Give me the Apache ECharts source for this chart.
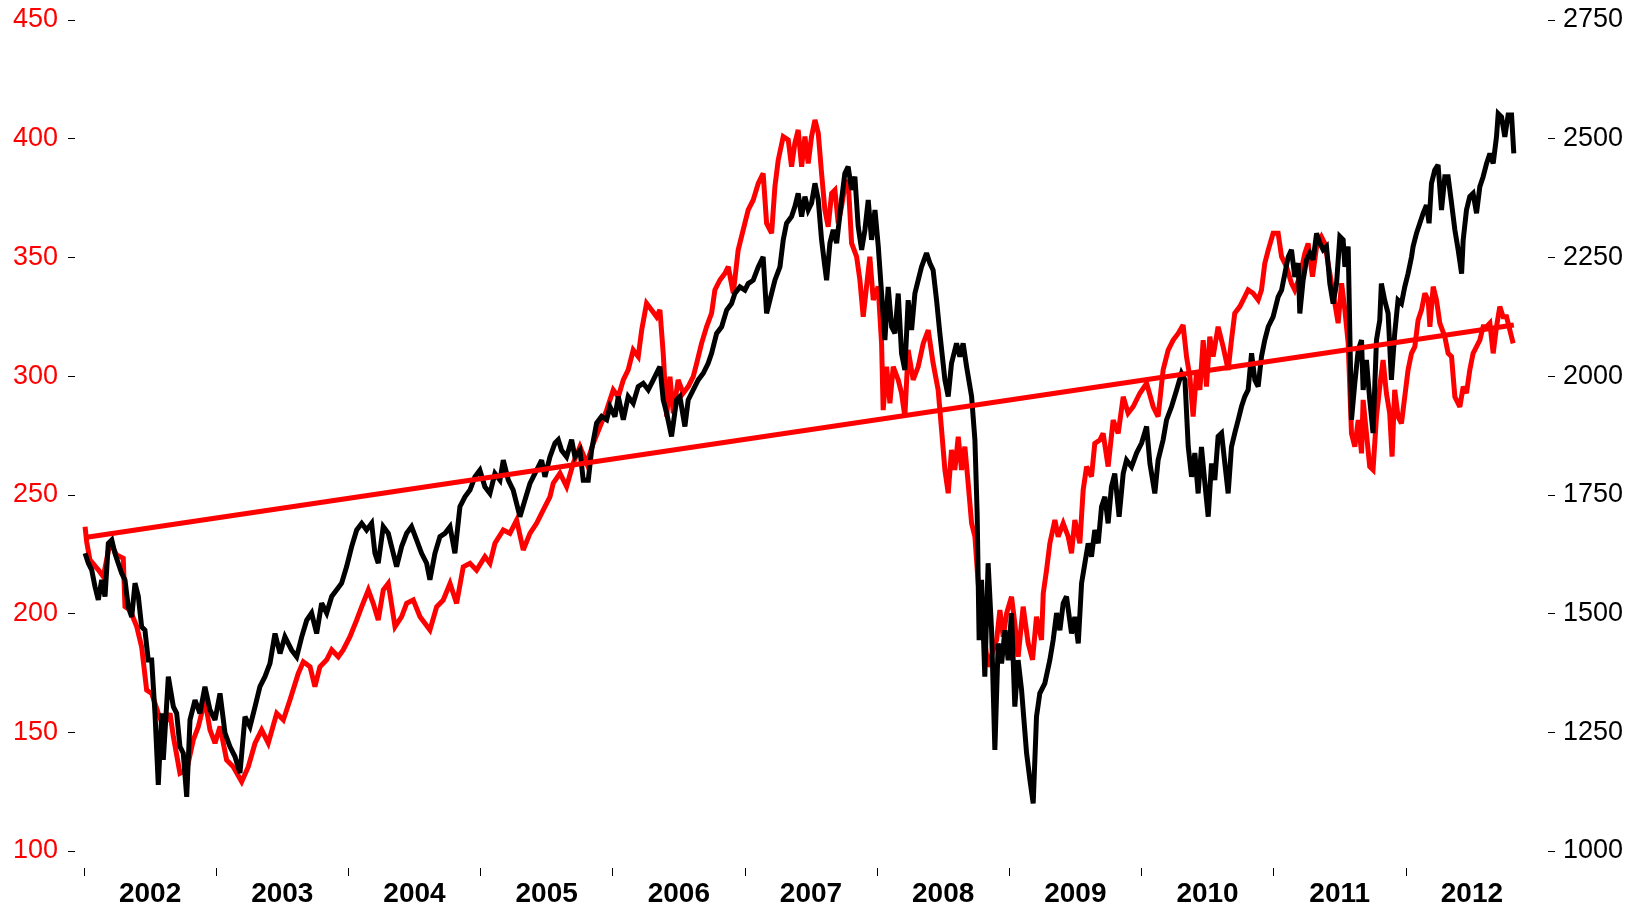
<!DOCTYPE html>
<html>
<head>
<meta charset="utf-8">
<title>index</title>
<script src="https://cdn.jsdelivr.net/npm/echarts@6/dist/echarts.min.js"></script>
<style>
    html, body { margin: 0; padding: 0; background: #fff; }
    #chart { width: 1640px; height: 907px; }
</style>
</head>
<body>
<div id="chart"></div>
<script>
/**
 * red index (left axis) vs black index (right axis), weekly-ish, 2002 - 2012
 */
const yearTicks = [2002, 2003, 2004, 2005, 2006, 2007, 2008, 2009, 2010, 2011, 2012];
const leftTicks = { min: 100, max: 450, step: 50 };
const rightTicks = { min: 1000, max: 2750, step: 250 };

const redDates = [
    2002.008, 2002.020, 2002.045, 2002.108, 2002.146, 2002.197, 2002.247, 2002.297, 2002.310, 2002.348,
    2002.399, 2002.436, 2002.474, 2002.512, 2002.562, 2002.600, 2002.651, 2002.676, 2002.726, 2002.777,
    2002.827, 2002.865, 2002.915, 2002.953, 2002.991, 2003.029, 2003.079, 2003.129, 2003.193, 2003.243,
    2003.294, 2003.344, 2003.394, 2003.458, 2003.508, 2003.558, 2003.621, 2003.659, 2003.710, 2003.747,
    2003.785, 2003.836, 2003.874, 2003.924, 2003.961, 2004.012, 2004.063, 2004.101, 2004.151, 2004.188,
    2004.226, 2004.264, 2004.302, 2004.353, 2004.403, 2004.441, 2004.491, 2004.542, 2004.617, 2004.668,
    2004.718, 2004.769, 2004.819, 2004.869, 2004.920, 2004.970, 2005.033, 2005.071, 2005.109, 2005.172,
    2005.222, 2005.273, 2005.323, 2005.374, 2005.424, 2005.474, 2005.525, 2005.550, 2005.601, 2005.651,
    2005.701, 2005.752, 2005.803, 2005.853, 2005.903, 2005.954, 2006.004, 2006.042, 2006.080, 2006.117,
    2006.155, 2006.193, 2006.219, 2006.256, 2006.294, 2006.332, 2006.357, 2006.382, 2006.408, 2006.433,
    2006.458, 2006.495, 2006.533, 2006.571, 2006.609, 2006.635, 2006.672, 2006.710, 2006.748, 2006.773,
    2006.811, 2006.849, 2006.874, 2006.912, 2006.949, 2006.987, 2007.025, 2007.063, 2007.101, 2007.138,
    2007.164, 2007.202, 2007.227, 2007.252, 2007.290, 2007.328, 2007.353, 2007.378, 2007.403, 2007.429,
    2007.454, 2007.479, 2007.504, 2007.530, 2007.555, 2007.580, 2007.605, 2007.630, 2007.656, 2007.681,
    2007.706, 2007.731, 2007.756, 2007.781, 2007.807, 2007.845, 2007.870, 2007.895, 2007.920, 2007.945,
    2007.971, 2008.008, 2008.034, 2008.046, 2008.072, 2008.097, 2008.122, 2008.160, 2008.185, 2008.210,
    2008.235, 2008.273, 2008.311, 2008.349, 2008.387, 2008.424, 2008.462, 2008.488, 2008.513, 2008.538,
    2008.563, 2008.588, 2008.614, 2008.639, 2008.664, 2008.689, 2008.715, 2008.740, 2008.765, 2008.803,
    2008.840, 2008.878, 2008.904, 2008.929, 2008.954, 2008.980, 2009.017, 2009.042, 2009.067, 2009.105,
    2009.143, 2009.176, 2009.206, 2009.244, 2009.257, 2009.282, 2009.307, 2009.345, 2009.370, 2009.408,
    2009.446, 2009.471, 2009.496, 2009.534, 2009.559, 2009.585, 2009.622, 2009.647, 2009.685, 2009.710,
    2009.748, 2009.786, 2009.824, 2009.862, 2009.899, 2009.937, 2009.988, 2010.039, 2010.089, 2010.126,
    2010.164, 2010.202, 2010.240, 2010.278, 2010.315, 2010.341, 2010.366, 2010.391, 2010.416, 2010.442,
    2010.467, 2010.492, 2010.517, 2010.542, 2010.580, 2010.618, 2010.656, 2010.681, 2010.706, 2010.744,
    2010.782, 2010.807, 2010.845, 2010.883, 2010.908, 2010.933, 2010.959, 2010.996, 2011.034, 2011.060,
    2011.097, 2011.135, 2011.160, 2011.198, 2011.236, 2011.261, 2011.294, 2011.325, 2011.362, 2011.387,
    2011.425, 2011.463, 2011.488, 2011.514, 2011.539, 2011.564, 2011.589, 2011.614, 2011.640, 2011.665,
    2011.677, 2011.702, 2011.727, 2011.752, 2011.778, 2011.803, 2011.828, 2011.853, 2011.878, 2011.896,
    2011.916, 2011.941, 2011.967, 2011.992, 2012.017, 2012.043, 2012.068, 2012.093, 2012.119, 2012.144,
    2012.169, 2012.182, 2012.207, 2012.232, 2012.257, 2012.295, 2012.320, 2012.346, 2012.371, 2012.409,
    2012.434, 2012.459, 2012.484, 2012.509, 2012.535, 2012.560, 2012.585, 2012.611, 2012.636, 2012.661,
    2012.686, 2012.711, 2012.736, 2012.762, 2012.787, 2012.812
];
const redValues = [
    236.6, 230.3, 222.6, 218.4, 215.5, 230.0, 224.7, 223.3, 202.9, 201.5,
    194.5, 186.0, 167.8, 166.4, 158.0, 152.4, 158.0, 148.2, 132.7, 134.1,
    146.8, 152.4, 163.6, 151.0, 145.4, 152.4, 138.3, 135.5, 129.2, 135.5,
    145.4, 151.0, 145.4, 158.0, 155.2, 163.6, 174.8, 179.7, 177.6, 169.2,
    177.6, 180.5, 184.7, 181.8, 184.7, 190.3, 197.3, 202.9, 209.9, 204.3,
    197.3, 209.9, 212.7, 194.5, 198.7, 204.3, 205.7, 198.7, 193.1, 202.9,
    205.7, 212.7, 204.3, 219.7, 221.2, 218.3, 224.0, 221.2, 229.6, 235.2,
    233.8, 239.4, 226.8, 233.8, 238.0, 243.6, 249.2, 254.9, 259.1, 253.5,
    263.3, 270.3, 263.3, 271.7, 278.7, 285.7, 294.2, 291.3, 298.4, 302.6,
    311.0, 308.2, 319.4, 330.7, 327.9, 325.0, 327.9, 309.6, 283.0, 299.8,
    284.4, 298.4, 292.8, 295.6, 299.8, 305.4, 313.8, 320.8, 326.5, 336.3,
    340.5, 343.3, 346.1, 334.9, 353.1, 361.6, 370.0, 374.2, 381.2, 385.4,
    364.4, 360.2, 379.8, 391.0, 400.9, 399.5, 388.2, 398.1, 403.7, 388.2,
    400.9, 389.6, 400.9, 407.9, 402.3, 385.4, 370.0, 362.9, 377.0, 378.4,
    364.4, 371.4, 379.8, 382.6, 356.0, 350.3, 340.5, 325.0, 337.7, 350.3,
    332.1, 337.7, 313.8, 285.7, 304.0, 288.6, 304.0, 298.4, 292.8, 283.0,
    311.0, 298.4, 304.0, 313.8, 319.4, 305.4, 294.2, 277.3, 260.5, 250.7,
    268.9, 260.5, 274.5, 260.5, 270.3, 254.9, 238.0, 232.4, 212.7, 193.1,
    177.6, 184.7, 188.9, 201.5, 190.3, 200.1, 207.1, 195.9, 181.8, 202.9,
    187.5, 180.5, 198.7, 188.9, 208.5, 218.3, 229.6, 239.4, 232.4, 238.0,
    232.4, 225.4, 239.4, 229.6, 252.0, 261.9, 257.7, 271.7, 273.1, 275.9,
    261.9, 281.5, 275.9, 291.3, 284.4, 287.1, 292.8, 297.0, 287.1, 283.0,
    302.6, 311.0, 315.2, 318.0, 321.5, 308.2, 299.8, 283.0, 301.2, 294.2,
    315.2, 295.6, 316.6, 308.2, 320.8, 312.4, 302.6, 315.2, 326.5, 329.3,
    333.5, 336.3, 334.9, 332.1, 336.3, 347.5, 353.1, 360.2, 360.2, 350.3,
    346.1, 339.1, 336.3, 341.9, 351.7, 355.9, 341.9, 354.5, 358.7, 355.9,
    343.3, 330.7, 322.3, 339.1, 327.9, 313.8, 275.9, 270.3, 281.5, 267.5,
    290.0, 275.9, 261.9, 260.5, 283.0, 295.6, 306.8, 292.8, 284.4, 266.1,
    294.2, 283.0, 280.1, 291.3, 302.6, 309.6, 312.4, 323.6, 327.9, 334.9,
    332.1, 320.8, 337.7, 332.1, 322.3, 316.6, 309.6, 308.2, 291.3, 287.1,
    295.6, 292.8, 302.6, 309.6, 312.4, 315.2, 320.8, 320.8, 322.3, 309.6,
    320.8, 329.3, 325.0, 325.0, 319.4, 313.8
];

const blackDates = [
    2002.008, 2002.033, 2002.058, 2002.083, 2002.108, 2002.134, 2002.159, 2002.184, 2002.210, 2002.234,
    2002.259, 2002.285, 2002.310, 2002.335, 2002.361, 2002.386, 2002.411, 2002.436, 2002.461, 2002.486,
    2002.512, 2002.537, 2002.562, 2002.588, 2002.600, 2002.638, 2002.676, 2002.701, 2002.726, 2002.751,
    2002.777, 2002.802, 2002.840, 2002.877, 2002.915, 2002.953, 2002.991, 2003.029, 2003.067, 2003.104,
    2003.142, 2003.180, 2003.218, 2003.256, 2003.294, 2003.331, 2003.369, 2003.407, 2003.445, 2003.483,
    2003.520, 2003.571, 2003.609, 2003.647, 2003.685, 2003.722, 2003.760, 2003.798, 2003.836, 2003.874,
    2003.912, 2003.949, 2003.987, 2004.025, 2004.063, 2004.101, 2004.138, 2004.176, 2004.201, 2004.226,
    2004.264, 2004.302, 2004.327, 2004.365, 2004.403, 2004.441, 2004.478, 2004.516, 2004.554, 2004.592,
    2004.617, 2004.655, 2004.693, 2004.731, 2004.769, 2004.806, 2004.844, 2004.882, 2004.920, 2004.958,
    2004.995, 2005.033, 2005.071, 2005.109, 2005.147, 2005.172, 2005.210, 2005.247, 2005.298, 2005.336,
    2005.374, 2005.412, 2005.437, 2005.462, 2005.487, 2005.525, 2005.563, 2005.588, 2005.613, 2005.651,
    2005.689, 2005.714, 2005.752, 2005.777, 2005.815, 2005.840, 2005.878, 2005.916, 2005.954, 2005.979,
    2006.017, 2006.042, 2006.080, 2006.117, 2006.155, 2006.193, 2006.231, 2006.269, 2006.307, 2006.344,
    2006.357, 2006.382, 2006.408, 2006.445, 2006.483, 2006.508, 2006.546, 2006.571, 2006.609, 2006.647,
    2006.685, 2006.722, 2006.748, 2006.786, 2006.824, 2006.862, 2006.899, 2006.924, 2006.962, 2007.000,
    2007.025, 2007.063, 2007.101, 2007.138, 2007.164, 2007.189, 2007.227, 2007.265, 2007.290, 2007.315,
    2007.353, 2007.378, 2007.403, 2007.429, 2007.454, 2007.479, 2007.504, 2007.530, 2007.555, 2007.580,
    2007.605, 2007.618, 2007.643, 2007.668, 2007.694, 2007.731, 2007.756, 2007.781, 2007.807, 2007.832,
    2007.857, 2007.883, 2007.908, 2007.933, 2007.958, 2007.984, 2008.009, 2008.034, 2008.059, 2008.084,
    2008.110, 2008.135, 2008.160, 2008.185, 2008.210, 2008.235, 2008.261, 2008.286, 2008.311, 2008.336,
    2008.374, 2008.399, 2008.424, 2008.450, 2008.475, 2008.513, 2008.538, 2008.563, 2008.601, 2008.626,
    2008.651, 2008.677, 2008.715, 2008.740, 2008.757, 2008.772, 2008.790, 2008.815, 2008.840, 2008.866,
    2008.891, 2008.916, 2008.942, 2008.967, 2008.992, 2009.017, 2009.042, 2009.067, 2009.093, 2009.131,
    2009.156, 2009.181, 2009.206, 2009.231, 2009.269, 2009.307, 2009.332, 2009.358, 2009.383, 2009.408,
    2009.433, 2009.471, 2009.496, 2009.522, 2009.547, 2009.572, 2009.597, 2009.622, 2009.647, 2009.673,
    2009.698, 2009.723, 2009.748, 2009.773, 2009.798, 2009.831, 2009.862, 2009.887, 2009.925, 2009.963,
    2010.001, 2010.039, 2010.064, 2010.101, 2010.126, 2010.164, 2010.190, 2010.228, 2010.266, 2010.303,
    2010.329, 2010.354, 2010.379, 2010.404, 2010.429, 2010.454, 2010.480, 2010.505, 2010.530, 2010.555,
    2010.580, 2010.606, 2010.631, 2010.656, 2010.681, 2010.706, 2010.732, 2010.757, 2010.782, 2010.807,
    2010.833, 2010.858, 2010.883, 2010.908, 2010.933, 2010.959, 2010.996, 2011.034, 2011.060, 2011.085,
    2011.110, 2011.135, 2011.160, 2011.186, 2011.198, 2011.223, 2011.249, 2011.274, 2011.299, 2011.325,
    2011.350, 2011.375, 2011.400, 2011.425, 2011.450, 2011.476, 2011.501, 2011.526, 2011.539, 2011.564,
    2011.589, 2011.614, 2011.640, 2011.665, 2011.677, 2011.702, 2011.727, 2011.752, 2011.778, 2011.803,
    2011.815, 2011.840, 2011.866, 2011.891, 2011.916, 2011.941, 2011.967, 2011.992, 2012.017, 2012.043,
    2012.055, 2012.081, 2012.106, 2012.131, 2012.156, 2012.176, 2012.194, 2012.219, 2012.244, 2012.270,
    2012.295, 2012.320, 2012.346, 2012.371, 2012.396, 2012.422, 2012.434, 2012.459, 2012.484, 2012.509,
    2012.535, 2012.560, 2012.585, 2012.611, 2012.636, 2012.661, 2012.686, 2012.699, 2012.724, 2012.749,
    2012.774, 2012.800, 2012.817
];
const blackValues = [
    1627, 1606, 1592, 1557, 1529, 1571, 1536, 1648, 1655, 1627,
    1606, 1585, 1571, 1514, 1493, 1564, 1536, 1472, 1465, 1402,
    1402, 1290, 1139, 1290, 1192, 1367, 1304, 1290, 1220, 1206,
    1114, 1276, 1318, 1290, 1346, 1297, 1276, 1332, 1248, 1220,
    1199, 1164, 1283, 1262, 1304, 1346, 1367, 1395, 1458, 1416,
    1451, 1423, 1409, 1451, 1486, 1501, 1458, 1522, 1501, 1536,
    1550, 1564, 1599, 1641, 1676, 1690, 1676, 1690, 1627, 1606,
    1683, 1669, 1641, 1599, 1641, 1669, 1683, 1655, 1627, 1606,
    1571, 1627, 1662, 1669, 1683, 1627, 1725, 1746, 1760, 1788,
    1802, 1767, 1753, 1795, 1781, 1823, 1781, 1760, 1704, 1739,
    1774, 1795, 1809, 1823, 1788, 1830, 1859, 1866, 1844, 1830,
    1866, 1830, 1844, 1781, 1781, 1844, 1901, 1915, 1908, 1936,
    1915, 1957, 1908, 1957, 1943, 1978, 1985, 1971, 1992, 2013,
    2020, 1950, 1922, 1873, 1950, 1957, 1894, 1950, 1971, 1992,
    2006, 2027, 2048, 2090, 2104, 2139, 2153, 2174, 2188, 2181,
    2195, 2202, 2230, 2251, 2132, 2160, 2202, 2230, 2287, 2322,
    2336, 2357, 2385, 2336, 2378, 2350, 2364, 2406, 2371, 2287,
    2230, 2202, 2280, 2308, 2280, 2371, 2427, 2441, 2392, 2420,
    2315, 2266, 2308, 2371, 2287, 2350, 2273, 2174, 2076, 2188,
    2104, 2090, 2174, 2048, 2013, 2160, 2097, 2174, 2202, 2230,
    2259, 2238, 2223, 2160, 2090, 1992, 1957, 2027, 2069, 2041,
    2069, 2020, 1957, 1866, 1711, 1444, 1571, 1367, 1606, 1465,
    1213, 1437, 1395, 1465, 1402, 1501, 1304, 1402, 1339, 1206,
    1150, 1100, 1283, 1332, 1353, 1402, 1444, 1501, 1465, 1522,
    1536, 1458, 1493, 1437, 1564, 1606, 1648, 1620, 1676, 1648,
    1725, 1746, 1690, 1767, 1795, 1704, 1795, 1823, 1809, 1838,
    1859, 1894, 1816, 1753, 1823, 1866, 1908, 1936, 1971, 2006,
    1992, 1851, 1788, 1838, 1753, 1851, 1774, 1704, 1816, 1781,
    1873, 1880, 1816, 1753, 1851, 1880, 1908, 1936, 1957, 1971,
    2048, 1992, 1978, 2041, 2076, 2104, 2125, 2167, 2181, 2216,
    2251, 2266, 2209, 2238, 2132, 2202, 2245, 2259, 2245, 2301,
    2280, 2266, 2273, 2195, 2153, 2195, 2294, 2287, 2230, 2273,
    1908, 1985, 2055, 2076, 1971, 2034, 1950, 1880, 2076, 2118,
    2195, 2160, 2132, 1992, 2090, 2160, 2153, 2188, 2216, 2251,
    2273, 2301, 2322, 2343, 2360, 2322, 2406, 2434, 2445, 2350,
    2420, 2420, 2364, 2308, 2266, 2216, 2287, 2350, 2378, 2385,
    2343, 2399, 2420, 2448, 2469, 2448, 2504, 2553, 2546, 2504,
    2550, 2550, 2469
];

// straight red line over the whole span
const trendDates = [2002.008, 2012.817];
const trendValues = [232.0, 321.5];

const font = '"Liberation Sans", Arial, sans-serif';
const zip = (xs, ys) => xs.map((x, i) => [x, ys[i]]);

const chart = echarts.init(document.getElementById('chart'));

const lineSeries = (name, xs, ys, color, axis) => ({
    name,
    type: 'line',
    yAxisIndex: axis,
    data: zip(xs, ys),
    symbol: 'none',
    showSymbol: false,
    silent: true,
    color,
    lineStyle: { color, width: 5, join: 'miter', miterLimit: 3 }
});

const yAxisBase = (range, side, offset, color, margin) => ({
    type: 'value',
    position: side,
    min: range.min,
    max: range.max,
    interval: range.step,
    offset,
    axisLine: { show: false },
    splitLine: { show: false },
    axisTick: { show: true, length: 7, lineStyle: { color: '#000', width: 1 } },
    axisLabel: { color, fontSize: 27, fontFamily: font, margin, formatter: v => String(v) }
});

chart.setOption({
    animation: false,
    backgroundColor: '#fff',
    grid: { left: 84, right: 102, top: 20, bottom: 56, containLabel: false, outerBoundsMode: 'none' },
    xAxis: {
        type: 'value',
        min: 2002,
        max: 2013,
        offset: 17,
        axisLine: { show: false },
        splitLine: { show: false },
        axisTick: { show: true, customValues: yearTicks, length: 8, lineStyle: { color: '#000', width: 1 } },
        axisLabel: {
            customValues: yearTicks.map(y => y + 0.5),
            formatter: v => String(Math.floor(v)),
            fontSize: 28,
            fontWeight: 'bold',
            fontFamily: font,
            color: '#000',
            margin: 12
        }
    },
    yAxis: [
        yAxisBase(leftTicks, 'left', 9, '#ff0000', 17),
        yAxisBase(rightTicks, 'right', 10, '#000', 15)
    ],
    series: [
        lineSeries('red', redDates, redValues, '#ff0000', 0),
        lineSeries('black', blackDates, blackValues, '#000000', 1),
        lineSeries('trend', trendDates, trendValues, '#ff0000', 0)
    ]
});
</script>
</body>
</html>
